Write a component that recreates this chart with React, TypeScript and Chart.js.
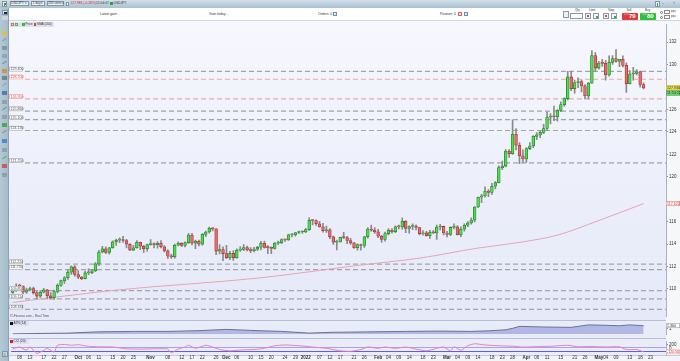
import React, { useEffect, useRef } from 'react';
import { Chart, registerables } from 'chart.js';

Chart.register(...registerables);

// ---------- categories (trading days) ----------
const START_DATE = '2021-09-06';
const SLOT_COUNT = 190; // 184 candles + empty future slots
function weekdays(start: string, n: number): string[] {
  const out: string[] = [];
  const d = new Date(start + 'T00:00:00Z');
  while (out.length < n) {
    const wd = d.getUTCDay();
    if (wd !== 0 && wd !== 6) out.push(d.toISOString().slice(0, 10));
    d.setUTCDate(d.getUTCDate() + 1);
  }
  return out;
}
const dates = weekdays(START_DATE, SLOT_COUNT);

// ---------- USD/JPY daily candles ----------
const opens = [109.70,109.84,110.26,110.25,109.72,109.93,110.04,109.68,109.37,109.71,
109.93,109.40,109.23,109.78,110.32,110.74,111.00,111.50,111.98,111.29,
111.05,110.93,111.43,111.44,111.63,112.24,113.30,113.59,113.27,113.68,
114.21,114.35,114.37,114.32,113.99,113.47,113.68,114.16,113.81,113.59,
113.95,114.02,113.95,114.07,113.77,113.40,112.92,112.87,113.90,114.07,
113.88,114.13,114.81,114.09,114.26,114.00,114.87,115.08,115.41,115.36,
113.38,113.51,113.16,112.79,113.17,112.78,113.46,113.52,113.69,113.48,
113.42,113.56,113.72,114.08,113.71,113.69,113.62,114.09,114.11,114.41,
114.38,114.83,114.84,115.04,115.08,115.09,115.30,116.12,116.11,115.82,
115.54,115.19,115.28,114.65,114.17,114.20,114.60,114.59,114.32,114.11,
113.68,113.97,113.88,114.66,115.35,115.25,115.09,114.71,114.41,114.94,
115.23,115.12,115.55,115.54,116.03,115.41,115.57,115.61,115.48,114.92,
115.00,114.75,115.06,115.00,115.53,115.58,114.99,114.87,115.49,115.54,
114.84,115.33,115.68,115.89,116.14,117.31,118.18,118.30,118.74,118.61,
119.16,119.48,120.82,120.96,122.30,122.06,123.80,122.82,121.87,121.60,
122.52,122.75,123.61,123.74,123.96,124.31,125.33,125.39,125.36,125.93,
126.44,126.98,128.91,127.87,128.40,128.50,128.11,127.21,128.35,130.81,
129.70,130.15,130.12,129.09,130.21,130.55,130.29,130.48,129.94,128.31,
129.17,129.21,129.37,128.23];

const highs = [109.89,110.45,110.44,110.28,110.09,110.16,110.16,109.76,109.85,110.07,
109.98,109.69,109.90,110.45,110.80,111.10,111.68,112.07,112.08,111.65,
111.12,111.60,111.79,111.76,112.36,113.45,113.80,113.77,113.72,114.30,
114.46,114.56,114.70,114.43,114.05,113.90,114.31,114.19,113.89,114.00,
114.40,114.11,114.22,114.31,113.87,113.50,113.12,114.00,114.20,114.13,
114.20,114.97,114.96,114.36,114.35,114.94,115.16,115.52,115.47,115.39,
113.97,113.77,113.89,113.36,113.43,113.58,113.79,113.95,113.83,113.69,
113.71,113.80,114.25,114.28,113.86,113.77,114.14,114.28,114.48,114.45,
114.89,114.95,115.03,115.17,115.19,115.41,116.35,116.16,116.17,116.03,
115.85,115.61,115.39,114.71,114.35,114.62,115.06,114.70,114.51,114.15,
114.02,114.00,114.69,115.48,115.69,115.48,115.32,114.79,115.07,115.38,
115.38,115.64,115.69,116.34,116.09,115.64,115.80,115.73,115.50,115.20,
115.14,115.22,115.21,115.70,115.76,115.62,115.14,115.55,115.80,115.65,
115.54,115.81,116.01,116.34,117.35,118.20,118.45,119.11,118.87,119.41,
119.57,120.99,121.41,122.43,122.44,125.09,124.30,123.06,122.41,122.60,
123.05,123.67,123.95,124.07,124.68,125.77,125.63,126.32,126.00,126.68,
127.05,129.40,129.41,128.63,128.83,128.62,128.23,128.43,131.25,131.07,
130.30,130.48,130.39,130.80,130.82,131.35,130.48,130.80,130.17,129.47,
129.77,129.57,129.44,128.38];

const lows = [109.61,109.78,110.08,109.59,109.61,109.85,109.53,109.11,109.22,109.65,
109.12,109.11,109.06,109.64,110.22,110.49,110.85,111.30,111.15,110.93,
110.82,110.89,111.28,111.36,111.55,112.08,113.21,113.15,113.11,113.63,
113.88,114.12,114.16,113.67,113.41,113.42,113.63,113.50,113.26,113.38,
113.90,113.67,113.65,113.67,113.30,112.73,112.72,112.75,113.83,113.78,
113.75,114.07,113.93,113.59,113.84,113.91,114.66,114.98,115.17,113.06,
113.12,112.53,112.70,112.62,112.55,112.74,113.36,113.41,113.39,113.23,
113.30,113.41,113.49,113.65,113.14,113.14,113.56,113.95,114.05,114.25,
114.34,114.65,114.71,114.93,114.95,115.02,115.23,115.72,115.66,115.51,
115.06,115.05,114.48,113.97,113.49,114.17,114.49,114.04,113.97,113.62,
113.47,113.47,113.70,114.54,115.14,114.96,114.57,114.15,114.26,114.83,
114.97,115.03,115.36,115.32,115.02,114.97,115.30,115.27,114.82,114.79,
114.71,114.52,114.93,114.41,115.26,114.82,114.65,114.75,115.36,114.83,
114.67,115.15,115.55,115.77,115.98,117.26,117.70,118.18,118.24,118.44,
118.93,119.46,120.64,120.88,121.74,122.00,122.40,121.18,121.28,121.28,
122.43,122.60,123.32,123.49,123.85,124.17,124.71,125.00,124.97,125.80,
126.27,126.86,127.69,127.46,127.95,127.57,126.95,126.95,128.32,129.43,
129.60,129.84,128.62,128.97,130.03,130.22,129.82,129.80,127.52,128.29,
128.63,129.08,128.00,127.85];

const closes = [109.84,110.26,110.25,109.72,109.93,110.04,109.68,109.37,109.71,109.93,
109.40,109.23,109.78,110.32,110.74,111.00,111.50,111.98,111.29,111.05,
110.93,111.43,111.44,111.63,112.24,113.30,113.59,113.27,113.68,114.21,
114.35,114.37,114.32,113.99,113.47,113.68,114.16,113.81,113.59,113.95,
114.02,113.95,114.07,113.77,113.40,112.92,112.87,113.90,114.07,113.88,
114.13,114.81,114.09,114.26,114.00,114.87,115.08,115.41,115.36,113.38,
113.51,113.16,112.79,113.17,112.78,113.46,113.52,113.69,113.48,113.42,
113.56,113.72,114.08,113.71,113.69,113.62,114.09,114.11,114.41,114.38,
114.83,114.84,115.04,115.08,115.09,115.30,116.12,116.11,115.82,115.54,
115.19,115.28,114.65,114.17,114.20,114.60,114.59,114.32,114.11,113.68,
113.97,113.88,114.66,115.35,115.25,115.09,114.71,114.41,114.94,115.23,
115.12,115.55,115.54,116.03,115.41,115.57,115.61,115.48,114.92,115.00,
114.75,115.06,115.00,115.53,115.58,114.99,114.87,115.49,115.54,114.84,
115.33,115.68,115.89,116.14,117.31,118.18,118.30,118.74,118.61,119.16,
119.48,120.82,120.96,122.30,122.06,123.80,122.82,121.87,121.60,122.52,
122.75,123.61,123.74,123.96,124.31,125.33,125.39,125.36,125.93,126.44,
126.98,128.91,127.87,128.40,128.50,128.11,127.21,128.35,130.81,129.70,
130.15,130.12,129.09,130.21,130.55,130.29,130.48,129.94,128.31,129.17,
129.21,129.37,128.23,127.93];

// SMA (200) read at sample candles
const smaIdx = [0, 30, 72, 100, 118, 135, 148, 158, 170, 183];
const smaVals = [108.8, 109.9, 111.0, 112.1, 112.75, 113.65, 114.2, 114.8, 116.1, 117.62];

// ATR (14) read at sample candles
const atrIdx = [0, 6, 16, 25, 35, 45, 54, 62, 69, 78, 86, 93, 95, 104, 114, 124, 133, 138, 143, 145, 147, 153, 162, 167, 172, 176, 179, 183];
const atrVals = [0.40, 0.44, 0.49, 0.64, 0.69, 0.69, 0.78, 0.93, 0.81, 0.69, 0.49, 0.59, 0.59, 0.64, 0.69, 0.73, 0.69, 0.76, 0.88, 1.05, 1.29, 1.22, 1.17, 1.46, 1.41, 1.36, 1.46, 1.36];

// CCI (20) read at sample candles
const cciIdx = [0, 2, 4, 5, 7, 9, 10, 12, 13, 15, 17, 19, 22, 25, 29, 33, 37, 41, 45, 46, 48, 50, 51, 53, 56, 58, 60, 63, 66, 70, 73, 76, 79, 83, 87, 91, 95, 98, 101, 103, 106, 108, 111, 114, 117, 120, 123, 125, 127, 128, 130, 132, 134, 137, 141, 145, 148, 153, 156, 161, 164, 168, 172, 176, 178, 181, 183];
const cciVals = [13, 90, -53, 100, -187, -53, 33, -133, 167, 200, 167, 190, 123, 100, 90, 13, 0, 13, 0, -167, 0, 90, 167, 33, 167, 90, -20, -77, -43, -20, 33, 147, 180, 147, 90, 33, -77, -100, -20, 90, 33, 90, 33, 90, 0, -77, 33, 90, -77, 100, -53, 147, 233, 180, 147, 123, 90, 113, 123, 167, 100, 113, 90, 100, -20, -20, -120.56];

// horizontal levels (left labels)
const levelValues = [129.4, 128.7, 126.95, 125.86, 125.1, 124.13, 121.25, 112.224, 111.734, 109.85, 109.114, 108.184];
const levelTones = ['g', 'r', 'r', 'g', 'g', 'g', 'g', 'g', 'g', 'g', 'g', 'g'];

// axis ticks
const priceTicks = [110, 112, 114, 116, 120, 122, 124, 126, 130, 132];
const atrTicks = [1];
const cciTicks = [200, 0];
const cciBands = [100, -100];
const xTickLabels: [string, string][] = [
  ['2021-09-08', '08'], ['2021-09-13', '13'], ['2021-09-17', '17'], ['2021-09-22', '22'], ['2021-09-27', '27'],
  ['2021-10-01', 'Oct'], ['2021-10-06', '06'], ['2021-10-11', '11'], ['2021-10-15', '15'], ['2021-10-20', '20'], ['2021-10-25', '25'],
  ['2021-11-01', 'Nov'], ['2021-11-08', '08'], ['2021-11-12', '12'], ['2021-11-17', '17'], ['2021-11-22', '22'], ['2021-11-26', '26'],
  ['2021-12-01', 'Dec'], ['2021-12-06', '06'], ['2021-12-10', '10'], ['2021-12-15', '15'], ['2021-12-20', '20'], ['2021-12-24', '24'], ['2021-12-29', '29'],
  ['2022-01-03', '2022'], ['2022-01-07', '07'], ['2022-01-12', '12'], ['2022-01-17', '17'], ['2022-01-21', '21'], ['2022-01-26', '26'],
  ['2022-02-01', 'Feb'], ['2022-02-04', '04'], ['2022-02-09', '09'], ['2022-02-14', '14'], ['2022-02-18', '18'], ['2022-02-23', '23'],
  ['2022-03-01', 'Mar'], ['2022-03-04', '04'], ['2022-03-09', '09'], ['2022-03-14', '14'], ['2022-03-18', '18'], ['2022-03-23', '23'], ['2022-03-28', '28'],
  ['2022-04-01', 'Apr'], ['2022-04-06', '06'], ['2022-04-11', '11'], ['2022-04-15', '15'], ['2022-04-21', '21'], ['2022-04-26', '26'],
  ['2022-05-02', 'May'], ['2022-05-04', '04'], ['2022-05-09', '09'], ['2022-05-13', '13'], ['2022-05-18', '18'], ['2022-05-23', '23'],
];
const monthLabels = ['Oct', 'Nov', 'Dec', '2022', 'Feb', 'Mar', 'Apr', 'May'];
const countdownText = '11:54:22';

// ---------- styling ----------
const CF = '"Liberation Sans", Arial, sans-serif';
const AXIS_W = 14;
const PAD_L = 11;
const UP = '#4fdc4f', UP_B = '#2b8a2b', DN = '#ec6a6a', DN_B = '#a33a3a', WICK = '#8a8a8a';

function box(ctx: CanvasRenderingContext2D, x: number, y: number, w: number, h: number, bg: string, bd: string, text: string, col: string) {
  ctx.save();
  ctx.setLineDash([]);
  ctx.fillStyle = bg;
  ctx.fillRect(x, y, w, h);
  ctx.strokeStyle = bd;
  ctx.lineWidth = 0.6;
  ctx.strokeRect(x + 0.3, y + 0.3, w - 0.6, h - 0.6);
  ctx.fillStyle = col;
  ctx.font = `3.6px ${CF}`;
  ctx.textBaseline = 'middle';
  ctx.textAlign = 'left';
  ctx.fillText(text, x + 1, y + h / 2 + 0.2);
  ctx.restore();
}

function rightAxis(min: number, max: number, ticks: number[]) {
  return {
    position: 'right' as const,
    min,
    max,
    afterBuildTicks: (ax: any) => { ax.ticks = ticks.map((v) => ({ value: v })); },
    afterFit: (ax: any) => { ax.width = AXIS_W; },
    ticks: { font: { family: CF, size: 4.5 }, color: '#333', padding: 1, autoSkip: false, callback: (v: any) => String(v) },
    grid: { drawOnChartArea: false, drawTicks: true, tickLength: 2, color: '#8c8c8c' },
    border: { display: true, color: '#a7b1c2' },
  };
}
const hiddenX = { type: 'category' as const, display: false, offset: true, grid: { display: false } };

const lastClose = closes[closes.length - 1];
const smaLast = smaVals[smaVals.length - 1];
const atrLast = atrVals[atrVals.length - 1];
const cciLast = cciVals[cciVals.length - 1];

const priceOverlay = {
  id: 'priceOverlay',
  beforeDatasetsDraw(chart: any) {
    const { ctx, chartArea: a, scales } = chart;
    const y = scales.y;
    ctx.save();
    ctx.lineWidth = 1.2;
    ctx.setLineDash([5, 3]);
    levelValues.forEach((v, i) => {
      const py = y.getPixelForValue(v);
      ctx.strokeStyle = levelTones[i] === 'r' ? '#f3a6a6' : '#a2a2aa';
      ctx.beginPath();
      ctx.moveTo(a.left + 14, py);
      ctx.lineTo(a.right, py);
      ctx.stroke();
    });
    ctx.restore();
  },
  afterDraw(chart: any) {
    const { ctx, chartArea: a, scales } = chart;
    const y = scales.y;
    levelValues.forEach((v, i) => {
      const py = y.getPixelForValue(v);
      const red = levelTones[i] === 'r';
      box(ctx, a.left - 1.6, py - 4.6, 13.2, 4.6, '#ffffff', red ? '#ee8c8c' : '#9a9a9a', v.toFixed(3), red ? '#e04848' : '#555');
    });
    const yc = y.getPixelForValue(lastClose);
    box(ctx, a.right, yc - 2.6, AXIS_W, 5, '#f2e15a', '#c7b43a', lastClose.toFixed(3), '#222');
    box(ctx, a.right, yc + 2.6, AXIS_W, 5, '#76da72', '#3f9f3f', countdownText, '#123');
    box(ctx, a.right, y.getPixelForValue(smaLast) - 2.5, AXIS_W, 5, '#ffffff', '#e07878', smaLast.toFixed(3), '#d23c3c');
  },
};

const atrOverlay = {
  id: 'atrOverlay',
  afterDraw(chart: any) {
    const { ctx, chartArea: a, scales } = chart;
    box(ctx, a.right, scales.y.getPixelForValue(atrLast) - 2.3, AXIS_W, 4.6, '#ffffff', '#9a9a9a', atrLast.toFixed(3), '#333');
  },
};

const cciOverlay = {
  id: 'cciOverlay',
  beforeDatasetsDraw(chart: any) {
    const { ctx, chartArea: a, scales } = chart;
    ctx.save();
    ctx.lineWidth = 1;
    cciBands.forEach((v, i) => {
      const py = Math.round(scales.y.getPixelForValue(v)) + 0.5;
      ctx.strokeStyle = i === 0 ? '#a3a6ee' : '#5a62e2';
      ctx.beginPath();
      ctx.moveTo(a.left, py);
      ctx.lineTo(a.right, py);
      ctx.stroke();
    });
    ctx.restore();
  },
  afterDraw(chart: any) {
    const { ctx, chartArea: a, scales } = chart;
    box(ctx, a.right, scales.y.getPixelForValue(cciLast) - 2.3, AXIS_W, 4.6, '#ffffff', '#e59a9a', cciLast.toFixed(2), '#d83030');
  },
};

const tickMap = new Map(xTickLabels);

function Txt(p: { x: number; y: number; s?: number; c?: string; b?: boolean; children: React.ReactNode }) {
  return (
    <div style={{ position: 'absolute', left: p.x, top: p.y, fontSize: p.s ?? 3.6, lineHeight: 1, color: p.c ?? '#333', fontWeight: p.b ? 700 : 400, whiteSpace: 'nowrap' }}>
      {p.children}
    </div>
  );
}
function Rect(p: { x: number; y: number; w: number; h: number; bg: string; bd?: string; r?: number; children?: React.ReactNode }) {
  return (
    <div style={{ position: 'absolute', left: p.x, top: p.y, width: p.w, height: p.h, background: p.bg, border: p.bd ? `0.5px solid ${p.bd}` : undefined, borderRadius: p.r ?? 0, boxSizing: 'border-box', overflow: 'hidden' }}>
      {p.children}
    </div>
  );
}

const toolIcons: [number, string][] = [
  [31, '#e3c234'], [39, '#7f8f9a'], [46, '#7f8f9a'], [54, '#8fa0aa'], [62, '#5d7fb8'], [69, '#d98a3a'], [76, '#6b7b86'],
  [84, '#8c9aa3'], [91, '#4e6fa5'], [100, '#8c9aa3'], [108, '#6b7b86'], [115, '#8c9aa3'], [123, '#3fa33f'],
  [131, '#c46a6a'], [139, '#4a7fd0'], [148, '#8c9aa3'], [157, '#3fa33f'], [164, '#d04a4a'], [173, '#8c9aa3'],
];

export default function App() {
  const priceRef = useRef<HTMLCanvasElement>(null);
  const atrRef = useRef<HTMLCanvasElement>(null);
  const cciRef = useRef<HTMLCanvasElement>(null);

  useEffect(() => {
    const charts: Chart[] = [];
    const common = {
      responsive: false,
      animation: false as const,
      events: [] as any[],
      devicePixelRatio: 1,
      layout: { padding: { left: PAD_L, right: 0, top: 0, bottom: 0 } },
    };

    charts.push(new Chart(priceRef.current!, {
      type: 'bar',
      data: {
        labels: dates,
        datasets: [
          {
            type: 'line',
            data: smaIdx.map((k, j) => ({ x: dates[k], y: smaVals[j] })) as any,
            borderColor: '#eaa2b6',
            borderWidth: 1,
            pointRadius: 0,
            cubicInterpolationMode: 'monotone',
            order: 3,
          } as any,
          {
            type: 'bar',
            data: lows.map((l, i) => [l, highs[i]]) as any,
            backgroundColor: WICK,
            barThickness: 1,
            grouped: false,
            order: 2,
          },
          {
            type: 'bar',
            data: opens.map((o, i) => [o, closes[i]]) as any,
            backgroundColor: closes.map((c, i) => (c >= opens[i] ? UP : DN)),
            borderColor: closes.map((c, i) => (c >= opens[i] ? UP_B : DN_B)),
            borderWidth: 0.8,
            borderSkipped: false,
            barThickness: 2.8,
            minBarLength: 1,
            grouped: false,
            order: 1,
          },
        ],
      },
      options: {
        ...common,
        plugins: { legend: { display: false }, tooltip: { enabled: false } },
        scales: { x: hiddenX, y: rightAxis(107.565, 133.565, priceTicks) as any },
      } as any,
      plugins: [priceOverlay],
    }));

    charts.push(new Chart(atrRef.current!, {
      type: 'line',
      data: {
        labels: dates,
        datasets: [{
          data: atrIdx.map((k, j) => ({ x: dates[k], y: atrVals[j] })) as any,
          fill: 'start',
          backgroundColor: '#b2b7e6',
          borderColor: '#6c7290',
          borderWidth: 1,
          pointRadius: 0,
          tension: 0,
        }],
      },
      options: {
        ...common,
        plugins: { legend: { display: false }, tooltip: { enabled: false } },
        scales: { x: hiddenX, y: rightAxis(0.35, 1.6, atrTicks) as any },
      } as any,
      plugins: [atrOverlay],
    }));

    charts.push(new Chart(cciRef.current!, {
      type: 'line',
      data: {
        labels: dates,
        datasets: [{
          data: cciIdx.map((k, j) => ({ x: dates[k], y: cciVals[j] })) as any,
          borderColor: '#ec7fb0',
          borderWidth: 1,
          pointRadius: 0,
          tension: 0.2,
        }],
      },
      options: {
        ...common,
        plugins: { legend: { display: false }, tooltip: { enabled: false } },
        scales: {
          x: {
            type: 'category',
            offset: true,
            grid: { display: false, drawTicks: false },
            border: { display: false },
            afterFit: (ax: any) => { ax.height = 6; },
            ticks: {
              autoSkip: false,
              maxRotation: 0,
              minRotation: 0,
              padding: 0.5,
              color: '#333',
              font: (c: any) => ({ family: CF, size: 4.5, weight: monthLabels.includes(tickMap.get(dates[c.index]) ?? '') ? 'bold' : 'normal' }),
              callback: (_v: any, i: number) => tickMap.get(dates[i]) ?? '',
            },
          },
          y: rightAxis(-260, 323, cciTicks) as any,
        },
      } as any,
      plugins: [cciOverlay],
    }));

    return () => charts.forEach((c) => c.destroy());
  }, []);

  return (
    <div style={{ position: 'fixed', left: 0, top: 0, width: 680, height: 361, overflow: 'hidden', background: '#ffffff', fontFamily: CF }}>
      {/* title bar */}
      <div style={{ position: 'absolute', left: 0, top: 0, width: 680, height: 8, background: 'linear-gradient(#d2e0ea, #a9c1cf)' }} />
      <Rect x={1.5} y={1.2} w={5} h={5.5} bg="#e9eef2" bd="#7f97a6">
        <div style={{ position: 'absolute', left: 1, top: 1, width: 1.2, height: 3, background: '#2faa2f' }} />
        <div style={{ position: 'absolute', left: 2.6, top: 0.6, width: 1.2, height: 2.6, background: '#d63b3b' }} />
      </Rect>
      <Rect x={9.5} y={1.2} w={19} h={5.3} bg="#eef2f5" bd="#7f97a6" />
      <Txt x={11} y={2.2} s={3.3}>USDJPY ▾</Txt>
      <Rect x={31} y={1.2} w={14} h={5.3} bg="#eef2f5" bd="#7f97a6" />
      <Txt x={32.5} y={2.2} s={3.3}>1 day ▾</Txt>
      <Rect x={46.5} y={1.2} w={17} h={5.3} bg="#eef2f5" bd="#7f97a6" />
      <Txt x={48} y={2.2} s={3.3}>200 units ▾</Txt>
      <Rect x={66} y={2} w={3} h={3.6} bg="#ffffff" bd="#7f97a6" />
      <Txt x={70.5} y={2.3} s={3.3} c="#c62828">127.983 (-0.28%)</Txt>
      <Txt x={96} y={2.3} s={3.3} c="#333">12:04:07</Txt>
      <div style={{ position: 'absolute', left: 109.5, top: 2.4, width: 3, height: 3, background: '#22a63a' }} />
      <Txt x={113.5} y={2.3} s={3.3}>USDJPY</Txt>
      <Rect x={655} y={1.2} w={5} h={5.5} bg="#e9eef2" bd="#7f97a6">
        <div style={{ position: 'absolute', left: 1, top: 1, width: 1.2, height: 3, background: '#2faa2f' }} />
        <div style={{ position: 'absolute', left: 2.6, top: 0.6, width: 1.2, height: 2.6, background: '#d63b3b' }} />
      </Rect>
      <Txt x={662} y={1.6} s={3.6} c="#456">–</Txt>
      <Txt x={667} y={1.6} s={3.6} c="#456">▫</Txt>
      <Txt x={673} y={1.6} s={3.6} c="#456">×</Txt>

      {/* toolbar */}
      <div style={{ position: 'absolute', left: 0, top: 8, width: 680, height: 13, background: '#ffffff', borderBottom: '1px solid #cfd7df', boxSizing: 'border-box' }} />
      <Txt x={100} y={12.6} s={3.4}>Latest gain: -</Txt>
      <Txt x={209} y={12.6} s={3.4}>Gain today: -</Txt>
      <Txt x={318} y={12.6} s={3.4}>Orders: 0</Txt>
      <Rect x={333} y={12.2} w={4} h={4} bg="#dfe8f2" bd="#6f8fb5" />
      <Txt x={440} y={12.6} s={3.4}>Position: 0</Txt>
      <Rect x={458} y={12.4} w={3.6} h={3.6} bg="#fbe3e3" bd="#d36a6a" />
      <Rect x={464} y={12.2} w={4} h={4} bg="#dfe8f2" bd="#6f8fb5" />
      <Rect x={563} y={11} w={6} h={7} bg="#eef1f4" bd="#8c99a6" />
      <Txt x={575} y={9.2} s={3}>Qty</Txt>
      <Rect x={570} y={13} w={13} h={5.5} bg="#ffffff" bd="#8c99a6" />
      <Txt x={589} y={9.2} s={3}>Limit</Txt>
      <Rect x={585} y={12.8} w={6} h={6.4} bg="#f2f4f6" bd="#8c99a6"><div style={{ position: 'absolute', left: 1, top: 1, width: 2, height: 2, background: '#d64545' }} /></Rect>
      <Rect x={593} y={12.8} w={6} h={6.4} bg="#f2f4f6" bd="#8c99a6"><div style={{ position: 'absolute', left: 2, top: 2.5, width: 2, height: 2, background: '#3aa84a' }} /></Rect>
      <Txt x={608} y={9.2} s={3}>Stop</Txt>
      <Rect x={603} y={12.8} w={6} h={6.4} bg="#f2f4f6" bd="#8c99a6"><div style={{ position: 'absolute', left: 1, top: 1, width: 2, height: 2, background: '#d64545' }} /></Rect>
      <Rect x={611} y={12.8} w={6} h={6.4} bg="#f2f4f6" bd="#8c99a6"><div style={{ position: 'absolute', left: 2, top: 2.5, width: 2, height: 2, background: '#3aa84a' }} /></Rect>
      <Txt x={626.5} y={9.2} s={3}>Sell</Txt>
      <Rect x={622} y={12.6} w={16} h={7} bg="#e23a3a" r={0.8} />
      <Txt x={624} y={14.4} s={2.6} c="#ffd6d6">125</Txt>
      <Txt x={629} y={13.1} s={6} c="#ffffff" b>79</Txt>
      <Txt x={645} y={9.2} s={3}>Buy</Txt>
      <Rect x={640} y={12.6} w={16} h={7} bg="#2fbf3c" r={0.8} />
      <Txt x={642} y={14.4} s={2.6} c="#d6ffd9">125</Txt>
      <Txt x={647} y={13.1} s={6} c="#ffffff" b>80</Txt>
      <div style={{ position: 'absolute', left: 660, top: 10.5, width: 3, height: 3, borderRadius: 2, border: '0.5px solid #777', boxSizing: 'border-box' }} />
      <div style={{ position: 'absolute', left: 660, top: 15.5, width: 3, height: 3, borderRadius: 2, border: '0.5px solid #777', boxSizing: 'border-box' }} />
      <Rect x={664} y={10} w={6} h={4} bg="#fff" bd="#888" />
      <Rect x={664} y={15} w={6} h={4} bg="#fff" bd="#888" />
      <Txt x={671} y={10.6} s={2.6}>pips</Txt>
      <Txt x={671} y={15.6} s={2.6}>pips</Txt>

      {/* left tool strip */}
      <div style={{ position: 'absolute', left: 0, top: 8, width: 9, height: 353, background: 'linear-gradient(90deg, #b4c9d5, #a3bccb)', borderRight: '0.5px solid #8aa2b1', boxSizing: 'border-box' }} />
      <Rect x={1.5} y={9.5} w={6} h={5} bg="#dde6ec" bd="#7f97a6"><div style={{ position: 'absolute', left: 1.5, top: 1.2, width: 2.5, height: 2, background: '#223' }} /></Rect>
      <Rect x={1.5} y={15.5} w={6} h={4} bg="#c9d6de" />
      {toolIcons.map(([y, c], i) => (
        <div key={i} style={{ position: 'absolute', left: 2, top: y, width: 5, height: i % 3 === 1 ? 1.2 : 3.5, background: c, opacity: 0.85, transform: i % 3 === 1 ? 'rotate(-35deg)' : undefined }} />
      ))}
      <Rect x={1.5} y={351} w={6} h={6} bg="#c9d6de" bd="#7f97a6"><Txt x={1} y={0.5} s={4} c="#345">≡</Txt></Rect>

      {/* pane backgrounds */}
      <div style={{ position: 'absolute', left: 9, top: 21, width: 657, height: 299, background: 'linear-gradient(180deg, #f7f8fe 0%, #eef1fb 45%, #e5e9f8 100%)' }} />
      <div style={{ position: 'absolute', left: 666, top: 21, width: 14, height: 340, background: '#f6f7f9' }} />
      <div style={{ position: 'absolute', left: 9, top: 320, width: 657, height: 18, background: '#e8ebf8', borderTop: '1px solid #b9c0d6', boxSizing: 'border-box' }} />
      <div style={{ position: 'absolute', left: 9, top: 338, width: 657, height: 17, background: '#eaedf9', borderTop: '1px solid #b9c0d6', boxSizing: 'border-box' }} />
      <div style={{ position: 'absolute', left: 9, top: 355, width: 671, height: 6, background: '#f2f4f7', borderTop: '0.5px solid #c4cbd8', boxSizing: 'border-box' }} />

      {/* canvases */}
      <canvas ref={priceRef} width={680} height={299} style={{ position: 'absolute', left: 0, top: 21, width: 680, height: 299 }} />
      <canvas ref={atrRef} width={680} height={18} style={{ position: 'absolute', left: 0, top: 320, width: 680, height: 18 }} />
      <canvas ref={cciRef} width={680} height={23} style={{ position: 'absolute', left: 0, top: 338, width: 680, height: 23 }} />

      {/* pane legends */}
      <Rect x={9.5} y={21.8} w={44} h={5} bg="#dfe2ea" />
      <div style={{ position: 'absolute', left: 10.5, top: 22.6, width: 3.2, height: 3.2, background: '#f3c7d3', border: '0.5px solid #c77', boxSizing: 'border-box' }} />
      <div style={{ position: 'absolute', left: 15, top: 22.6, width: 3.2, height: 3.2, background: '#cdeccd', border: '0.5px solid #6a6', boxSizing: 'border-box' }} />
      <div style={{ position: 'absolute', left: 22, top: 22.6, width: 2.6, height: 3.2, background: '#2fbf3c' }} />
      <Txt x={25.2} y={22.7} s={3.2}>Price</Txt>
      <div style={{ position: 'absolute', left: 33.5, top: 22.6, width: 2.6, height: 3.2, background: '#e04545' }} />
      <Txt x={36.8} y={22.7} s={3.2}>SMA (200)</Txt>
      <Txt x={10} y={315.2} s={3.2} c="#555">IT-Finance.com - Real Time</Txt>
      <Rect x={9.5} y={321.4} w={19} h={4.6} bg="#dde1f1" />
      <div style={{ position: 'absolute', left: 10.3, top: 322.2, width: 2.6, height: 2.8, background: '#111' }} />
      <Txt x={13.6} y={322.3} s={3.2}>ATR (14)</Txt>
      <Rect x={9.5} y={339.4} w={19} h={4.6} bg="#dfe2f2" />
      <div style={{ position: 'absolute', left: 10.3, top: 340.2, width: 2.6, height: 2.8, background: '#e02020' }} />
      <Txt x={13.6} y={340.3} s={3.2}>CCI (20)</Txt>
    </div>
  );
}
